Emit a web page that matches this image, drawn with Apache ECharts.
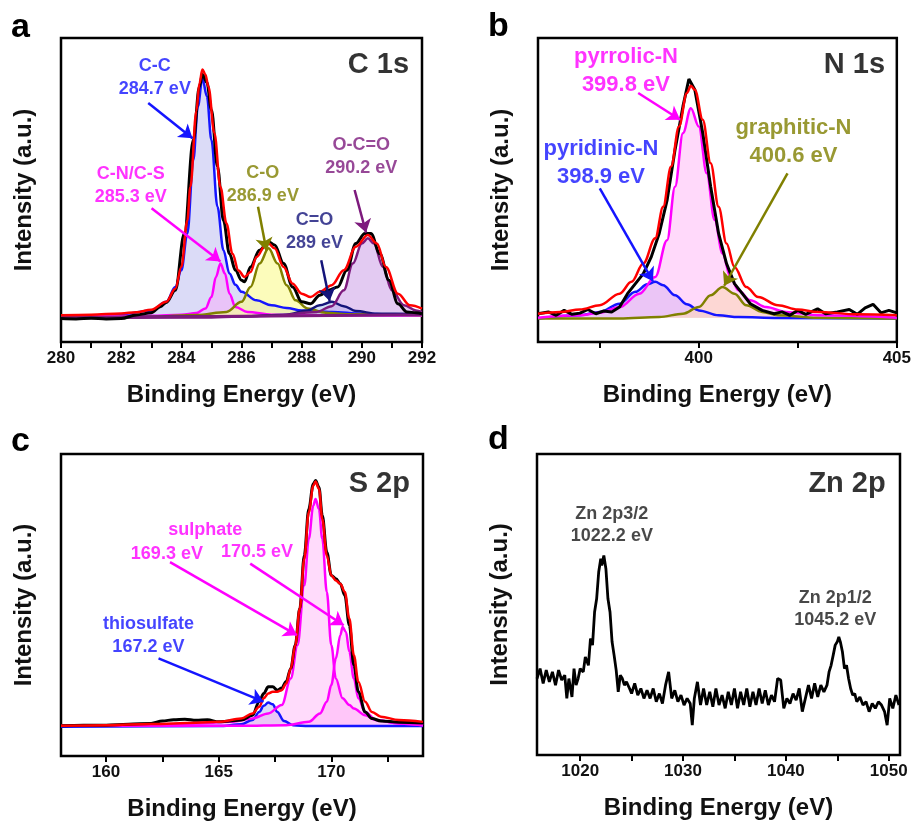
<!DOCTYPE html>
<html>
<head>
<meta charset="utf-8">
<script src="https://cdn.jsdelivr.net/npm/echarts@6/dist/echarts.min.js"></script>
<style>
  html, body { margin: 0; padding: 0; background: #fff; }
  #chart { width: 914px; height: 825px; }
</style>
</head>
<body>
<div id="chart"></div>
<script>
// ---- data (x = binding energy in eV, y = intensity, arbitrary units 0-100) ----

// panel a: C 1s
const cRaw = [[280,7.7],[280.5,7.6],[281,7.8],[281.5,7.6],[282,7.7],[282.5,8.9],[283,9.6],[283.3,11.6],[283.5,13],[283.8,17],[284.1,35.7],[284.4,66.5],[284.6,84],[284.7,88],[284.85,85.4],[285,76.4],[285.2,57.7],[285.4,40],[285.6,29],[285.8,23.6],[286,20.3],[286.1,19.8],[286.3,24.7],[286.6,30.2],[286.9,33],[287.1,31.9],[287.4,25.8],[287.7,18.1],[288,13.2],[288.3,12.6],[288.6,15.4],[288.9,17],[289.2,18.1],[289.5,23.6],[289.8,32.4],[290.1,35.7],[290.3,35.7],[290.6,29],[290.9,20.3],[291.2,12.6],[291.5,9.9],[291.8,9.6],[292,9.3]]
const cFit = [[280,8.8],[281,9],[282,9.4],[282.5,9.8],[283,10.6],[283.5,13.2],[283.8,17.5],[284,24.7],[284.2,40],[284.3,51],[284.5,76],[284.6,85],[284.7,89.6],[284.8,88],[284.9,84],[285.1,68.7],[285.3,51],[285.5,39],[285.7,29],[285.9,23.5],[286.1,21.4],[286.3,23],[286.5,28],[286.8,31.9],[286.9,32.4],[287.1,30.8],[287.4,24.7],[287.7,19.2],[288,15.9],[288.3,14.8],[288.6,16.5],[289,18.7],[289.4,23.6],[289.8,31.3],[290.2,35.2],[290.5,32.4],[290.8,24.7],[291.2,15.9],[291.6,12.1],[292,11]]
const cCC = [[280,8.5],[281,8.7],[282,9.1],[283,10.4],[283.5,13.2],[283.8,18.1],[284,23.6],[284.2,35.7],[284.4,60],[284.55,77.5],[284.7,86.8],[284.85,80.8],[285,66.5],[285.2,44.5],[285.4,30.2],[285.6,22.5],[285.8,18.8],[286,16.5],[286.5,13.7],[287,12.1],[287.5,11.2],[288,10.4],[289,9.9],[290,9.3],[291,9.1],[292,9]]
const cCN = [[280,8.2],[283,8.6],[284,9],[284.5,9.5],[284.8,11],[285,14.8],[285.15,21.4],[285.3,25.8],[285.45,22.5],[285.6,15.9],[285.8,11.5],[286.2,9.9],[287,9],[289,8.8],[292,8.7]]
const cCO = [[280,8],[283,8.3],[284.5,8.9],[285.5,9.9],[286,13.2],[286.3,18.1],[286.6,25.8],[286.9,30.8],[287.2,25.8],[287.5,18.7],[287.8,13.7],[288.2,11],[288.8,9.6],[289.5,9.1],[292,8.9]]
const cCdO = [[280,8],[286,8.4],[287.5,9],[288.2,10.4],[288.6,12.1],[289,13.2],[289.4,11.8],[289.8,10.2],[290.5,9.3],[292,9.2]]
const cOCO = [[280,7.9],[285,8.1],[287,8.6],[288.5,9.9],[289,11.8],[289.4,17],[289.7,25.8],[290,32.4],[290.2,34.1],[290.4,32.4],[290.7,24.7],[291,17],[291.4,12.1],[291.8,10.4],[292,9.9]]
const cBase = [[280,8],[292,9]]

// panel b: N 1s
const nRaw = [[395.94,9.3],[396.2,9.9],[396.4,8.8],[396.6,10.4],[396.8,9.1],[397,9.5],[397.2,10.7],[397.4,9.3],[397.6,10.2],[397.8,9.9],[398,11.5],[398.2,15.9],[398.4,19.2],[398.6,22.5],[398.8,28],[399,35.7],[399.2,46.7],[399.4,63.2],[399.6,77.5],[399.75,86.5],[399.9,83],[400.1,68.7],[400.3,51.1],[400.5,35.7],[400.7,25.8],[400.9,19.2],[401.1,15.9],[401.3,12.6],[401.6,10.4],[401.9,9.3],[402.1,9.9],[402.3,8.8],[402.5,10.4],[402.7,9.1],[403,10.9],[403.2,9.3],[403.5,9.9],[403.8,10.7],[404,9.1],[404.2,11.2],[404.4,12.4],[404.6,9.6],[404.8,10.4],[405,9.6]]
const nFit = [[395.94,9.3],[396.5,9.9],[397,10.7],[397.5,12.1],[398,15.9],[398.3,19.8],[398.6,25.8],[398.9,34.1],[399.1,44.5],[399.3,57.7],[399.5,70.9],[399.7,81.9],[399.8,84.3],[399.9,83],[400.1,73.1],[400.3,58.8],[400.5,44.5],[400.7,32.4],[400.9,24.7],[401.2,18.1],[401.5,14.8],[402,12.1],[402.5,10.7],[403,9.9],[404,9.1],[405,8.8]]
const nPyrrolic = [[395.94,8],[397,8.8],[397.5,9.6],[398,11.5],[398.5,15.9],[398.9,21.4],[399.2,33.5],[399.4,51.1],[399.6,68.7],[399.8,76.9],[400,70.9],[400.2,55.5],[400.4,40.1],[400.6,29.1],[400.8,21.4],[401,17],[401.3,13.7],[401.7,11.5],[402.2,9.9],[403,8.8],[405,8]]
const nPyridinic = [[395.94,7.7],[397,8.8],[397.5,9.9],[398,12.6],[398.4,16.5],[398.7,19],[398.9,19.8],[399.1,18.7],[399.4,15.4],[399.7,12.4],[400,10.4],[400.5,8.8],[401,8.2],[402,7.9],[405,7.7]]
const nGraphitic = [[395.94,7.7],[398,7.7],[399,8.2],[399.6,9.3],[400,11.5],[400.3,15.4],[400.6,18.1],[400.9,15.9],[401.2,12.1],[401.6,9.9],[402,8.8],[403,8],[405,7.7]]

// panel c: S 2p
const sRaw = [[158,10],[159,10.2],[160,10.2],[161,10.5],[162,10.8],[162.5,11.6],[163,12],[163.5,12.2],[164,11.8],[164.5,12],[165,11.3],[165.5,11.6],[166,11.9],[166.5,13.5],[166.8,18],[167,20.7],[167.2,22.9],[167.4,22.9],[167.6,21.8],[167.8,22.5],[168,24.7],[168.2,29],[168.4,36.7],[168.6,48.8],[168.8,66.4],[169,81.8],[169.2,90.1],[169.3,91.2],[169.45,89],[169.6,79.6],[169.8,67.5],[170,59.8],[170.2,58.7],[170.4,57],[170.6,53.2],[170.8,43.3],[171,30.1],[171.2,21.3],[171.5,14.6],[171.8,12.4],[172.2,11.6],[173,11.2],[174.07,10.9]]
const sFit = [[158,10],[160,10.2],[162,10.6],[164,11],[165,11.3],[166,12.4],[166.5,14.1],[166.8,16.3],[167,19.1],[167.2,20.7],[167.4,21.3],[167.6,21.3],[167.8,21.8],[168,24],[168.2,29],[168.4,36.7],[168.6,48.8],[168.8,65.3],[169,80.7],[169.2,89.5],[169.3,90.9],[169.45,88.5],[169.6,78.5],[169.8,66.4],[170,59.8],[170.2,58.1],[170.4,57],[170.6,54.3],[170.8,45.5],[171,33.4],[171.2,24.6],[171.5,18],[171.8,14.6],[172.2,13],[173,11.9],[174.07,11.3]]
const s1693 = [[158,10],[162,10.2],[164,10.8],[165.5,11.3],[166.5,12.4],[167.2,14.1],[167.8,16.9],[168.2,25.7],[168.5,36.7],[168.8,56.5],[169,71.9],[169.2,82.9],[169.3,85.1],[169.45,81.8],[169.6,71.9],[169.8,54.3],[170,36.7],[170.2,25.7],[170.5,19.1],[170.8,16.9],[171,15.7],[171.5,13.5],[172,11.9],[173,10.8],[174.07,10.2]]
const s1705 = [[158,10],[166,10],[168,10.2],[169,11.3],[169.5,14.1],[169.8,18],[170,23.5],[170.2,32.3],[170.4,40],[170.5,42.7],[170.65,41.1],[170.8,34.5],[171,25.7],[171.2,19.1],[171.5,14.6],[172,11.9],[173,10.8],[174.07,10.2]]
const sThio = [[158,9.7],[165,9.9],[166,10.5],[166.5,11.9],[166.8,14.6],[167,16.6],[167.2,17.7],[167.4,17.1],[167.6,14.6],[167.9,11.6],[168.3,10.2],[169,9.9],[174.07,9.9]]

// panel d: Zn 2p
const znRaw = [[1015.8,25.4],[1016.1,28.7],[1016.4,23.8],[1016.7,28.2],[1017,24.3],[1017.3,27.6],[1017.6,23.2],[1017.9,28.2],[1018.2,24.9],[1018.5,26.5],[1018.7,18.8],[1018.9,25.4],[1019.2,19.3],[1019.4,28.7],[1019.6,23.2],[1019.8,25.4],[1020,28.7],[1020.3,27.6],[1020.5,32.6],[1020.8,29.8],[1021,38.7],[1021.2,36.5],[1021.4,47.5],[1021.6,51.9],[1021.8,60.8],[1022,65.2],[1022.1,63],[1022.3,66.3],[1022.5,61.9],[1022.7,51.9],[1022.9,47.5],[1023.1,37.6],[1023.3,33.1],[1023.5,28.2],[1023.7,21],[1023.9,26.5],[1024.1,25.4],[1024.3,23.2],[1024.5,24.3],[1024.8,22.1],[1025,20.4],[1025.3,23.8],[1025.6,19.9],[1025.9,22.1],[1026.2,18.8],[1026.5,21.5],[1026.8,18.8],[1027.1,22.1],[1027.4,17.7],[1027.7,20.4],[1028,17.1],[1028.3,23.2],[1028.6,27.6],[1028.9,18.8],[1029.2,21.5],[1029.5,17.7],[1029.8,19.9],[1030.1,16.6],[1030.4,18.8],[1030.7,17.1],[1030.9,9.9],[1031.1,18.8],[1031.4,24.3],[1031.7,16.6],[1032,22.1],[1032.3,16.6],[1032.6,21],[1032.9,16],[1033.2,22.1],[1033.5,16.6],[1033.8,19.9],[1034.1,15.5],[1034.4,21],[1034.7,16.6],[1035,22.1],[1035.3,15.5],[1035.6,21],[1035.9,16.6],[1036.2,22.1],[1036.5,16],[1036.8,21],[1037.1,16.6],[1037.4,22.1],[1037.7,17.1],[1038,21.5],[1038.3,16.6],[1038.6,19.9],[1038.9,17.7],[1039.2,25.4],[1039.5,24.9],[1039.8,15.5],[1040.1,18.8],[1040.4,17.1],[1040.7,20.4],[1041,18.2],[1041.3,22.1],[1041.6,14.4],[1041.9,18.8],[1042.2,23.2],[1042.5,18.8],[1042.8,23.8],[1043.1,19.3],[1043.4,23.2],[1043.7,21],[1044,23.2],[1044.2,27.6],[1044.4,29.8],[1044.6,33.1],[1044.8,36.5],[1045,37.6],[1045.15,39.2],[1045.3,37.6],[1045.5,34.3],[1045.7,28.7],[1045.9,29.8],[1046.1,25.4],[1046.3,22.1],[1046.5,19.9],[1046.7,20.4],[1046.9,17.7],[1047.2,19.3],[1047.5,16.6],[1047.8,17.7],[1048.1,14.4],[1048.4,17.1],[1048.7,15.5],[1049,17.7],[1049.3,16.6],[1049.6,14.4],[1049.85,9.9],[1050.1,18.8],[1050.4,15.5],[1050.7,19.9],[1051,16.6]]

// axis ticks and labels
const aTicks = [280,281,282,283,284,285,286,287,288,289,290,291,292]
const aTickLabels = [280,282,284,286,288,290,292]
const bTicks = [397.5,400,402.5,405]
const bTickLabels = [400,405]
const cTicks = [160,162.5,165,167.5,170,172.5]
const cTickLabels = [160,165,170]
const dTicks = [1020,1025,1030,1035,1040,1045,1050]
const dTickLabels = [1020,1030,1040,1050]

// ---- styling / layout ----
const FONT = '"Liberation Sans", Arial, Helvetica, sans-serif'
const BLUE = '#1515ff', MAG = '#ff00ff', OLIVE = '#808000', NAVY = '#14147a', PURPLE = '#7d1a7d', RED = '#ff0000'

const grids = [
  { left: 61, top: 38, width: 361, height: 304 },
  { left: 538, top: 38, width: 362, height: 304 },
  { left: 61, top: 454, width: 362, height: 302 },
  { left: 537, top: 454, width: 363, height: 301 }
].map(g => ({ ...g, show: true, borderColor: '#000', borderWidth: 2.5 }))

const xRange = [[280, 292], [395.94, 405], [158, 174.07], [1015.8, 1051.1]]
const xTicks = [aTicks, bTicks, cTicks, dTicks]
const xLabels = [aTickLabels, bTickLabels, cTickLabels, dTickLabels]
const baseOf = [8.3, 8, 10, 0]

const xAxes = xRange.map((r, i) => ({
  type: 'value', gridIndex: i, min: r[0], max: r[1],
  name: 'Binding Energy (eV)', nameLocation: 'middle', nameGap: 41,
  nameTextStyle: { fontSize: 24, fontWeight: 'bold', color: '#111', fontFamily: FONT },
  axisLine: { show: false }, splitLine: { show: false },
  axisTick: { show: true, customValues: xTicks[i], length: 6, lineStyle: { color: '#000', width: 2 } },
  axisLabel: {
    customValues: xLabels[i], fontSize: 17, fontWeight: 'bold', color: '#111', margin: 8, fontFamily: FONT,
    formatter: v => String(v)
  }
}))

const yAxes = [0, 1, 2, 3].map(i => ({
  type: 'value', gridIndex: i, min: 0, max: 100,
  name: 'Intensity (a.u.)', nameLocation: 'middle', nameGap: 25,
  nameTextStyle: { fontSize: 24, fontWeight: 'bold', color: '#111', fontFamily: FONT },
  axisLine: { show: false }, axisTick: { show: false }, axisLabel: { show: false }, splitLine: { show: false }
}))

const curve = (g, data, color, width, fill, z, smooth = true) => {
  const s = {
    type: 'line', xAxisIndex: g, yAxisIndex: g, data, symbol: 'none',
    smooth: smooth ? 0.35 : false, smoothMonotone: 'x',
    lineStyle: { color, width }, z, silent: true
  }
  if (fill) s.areaStyle = { color: fill, origin: baseOf[g], opacity: 1 }
  return s
}

const notes = (g, items) => ({
  type: 'scatter', xAxisIndex: g, yAxisIndex: g, symbolSize: 1, z: 30, silent: true,
  itemStyle: { color: 'rgba(0,0,0,0)' },
  data: items.map(n => ({
    value: n.at,
    label: {
      show: true, position: 'inside', formatter: n.text, color: n.color,
      fontSize: n.size || 18, fontWeight: 'bold', lineHeight: n.lh || 23, fontFamily: FONT
    }
  }))
})

const arrows = (g, items) => ({
  type: 'lines', coordinateSystem: 'cartesian2d', xAxisIndex: g, yAxisIndex: g,
  symbol: ['none', 'arrow'], symbolSize: 13, z: 25, silent: true,
  lineStyle: { width: 2.5, opacity: 1, curveness: 0 },
  data: items.map(a => ({ coords: [a.from, a.to], lineStyle: { color: a.color } }))
})

const series = [
  // a
  curve(0, cCC, BLUE, 2.5, 'rgba(170,170,235,0.42)', 3),
  curve(0, cCN, MAG, 2.5, 'rgba(255,160,250,0.40)', 3),
  curve(0, cCO, OLIVE, 2.5, 'rgba(250,250,150,0.65)', 3),
  curve(0, cCdO, NAVY, 2.5, 'rgba(150,190,240,0.45)', 3),
  curve(0, cOCO, PURPLE, 2.5, 'rgba(200,150,230,0.50)', 3),
  curve(0, cBase, PURPLE, 3, null, 4, false),
  curve(0, cRaw, '#000', 3, null, 5),
  curve(0, cFit, RED, 2.5, null, 6),
  arrows(0, [
    { from: [282.9, 78.6], to: [284.37, 67], color: BLUE },
    { from: [283.01, 44], to: [285.3, 26.5], color: MAG },
    { from: [286.55, 44.5], to: [286.83, 30], color: OLIVE },
    { from: [288.65, 26.9], to: [288.93, 13.5], color: NAVY },
    { from: [289.76, 50], to: [290.14, 36], color: PURPLE }
  ]),
  notes(0, [
    { at: [283.12, 87.1], text: 'C-C\n284.7 eV', color: BLUE },
    { at: [282.32, 51.6], text: 'C-N/C-S\n285.3 eV', color: MAG },
    { at: [286.71, 51.9], text: 'C-O\n286.9 eV', color: OLIVE },
    { at: [288.43, 36.3], text: 'C=O\n289 eV', color: NAVY },
    { at: [289.98, 61], text: 'O-C=O\n290.2 eV', color: PURPLE },
    { at: [290.55, 91], text: 'C 1s', color: '#000', size: 29 }
  ]),
  // b
  curve(1, nPyridinic, BLUE, 2.5, 'rgba(170,170,235,0.42)', 3),
  curve(1, nGraphitic, OLIVE, 2.5, 'rgba(250,250,150,0.65)', 3),
  curve(1, nPyrrolic, MAG, 2.5, 'rgba(255,170,245,0.45)', 3),
  curve(1, nRaw, '#000', 3, null, 5, false),
  curve(1, nFit, RED, 2.5, null, 6),
  arrows(1, [
    { from: [398.47, 81.9], to: [399.53, 73.1], color: MAG },
    { from: [397.5, 50.5], to: [398.84, 20], color: BLUE },
    { from: [402.24, 55.5], to: [400.64, 18.5], color: OLIVE }
  ]),
  notes(1, [
    { at: [398.16, 89.3], text: 'pyrrolic-N\n399.8 eV', color: MAG, size: 22, lh: 28 },
    { at: [397.53, 59], text: 'pyridinic-N\n398.9 eV', color: BLUE, size: 22, lh: 28 },
    { at: [402.39, 65.9], text: 'graphitic-N\n400.6 eV', color: OLIVE, size: 22, lh: 28 },
    { at: [403.93, 91.2], text: 'N 1s', color: '#000', size: 29 }
  ]),
  // c
  curve(2, sThio, BLUE, 2.5, 'rgba(170,170,235,0.42)', 3),
  curve(2, s1693, MAG, 2.5, 'rgba(255,170,245,0.42)', 3),
  curve(2, s1705, MAG, 2.5, 'rgba(255,170,245,0.42)', 3),
  curve(2, sRaw, '#000', 3, null, 5),
  curve(2, sFit, RED, 2.5, null, 6),
  arrows(2, [
    { from: [162.84, 64.2], to: [168.47, 40], color: MAG },
    { from: [166.4, 63.7], to: [170.55, 43.3], color: MAG },
    { from: [162.33, 32.3], to: [166.99, 18], color: BLUE }
  ]),
  notes(2, [
    { at: [164.4, 74.7], text: 'sulphate', color: MAG },
    { at: [162.7, 67], text: '169.3 eV', color: MAG },
    { at: [166.7, 67.5], text: '170.5 eV', color: MAG },
    { at: [161.88, 40], text: 'thiosulfate\n167.2 eV', color: BLUE },
    { at: [172.13, 90.1], text: 'S 2p', color: '#000', size: 29 }
  ]),
  // d
  curve(3, znRaw, '#000', 2.8, null, 5, false),
  notes(3, [
    { at: [1023.08, 76.5], text: 'Zn 2p3/2\n1022.2 eV', color: '#1a1a1a', size: 18, lh: 22 },
    { at: [1044.81, 48.6], text: 'Zn 2p1/2\n1045.2 eV', color: '#1a1a1a', size: 18, lh: 22 },
    { at: [1045.95, 90], text: 'Zn 2p', color: '#000', size: 29 }
  ])
]

const panelLetter = (t, left, top) => ({
  type: 'text', left, top,
  style: { text: t, font: 'bold 34px ' + FONT, fill: '#000' }
})

const chart = echarts.init(document.getElementById('chart'), null, { renderer: 'canvas' })
chart.setOption({
  animation: false,
  backgroundColor: '#fff',
  grid: grids,
  xAxis: xAxes,
  yAxis: yAxes,
  graphic: [
    panelLetter('a', 11, 11),
    panelLetter('b', 488, 10),
    panelLetter('c', 11, 425),
    panelLetter('d', 488, 423)
  ],
  series
})
</script>
</body>
</html>
